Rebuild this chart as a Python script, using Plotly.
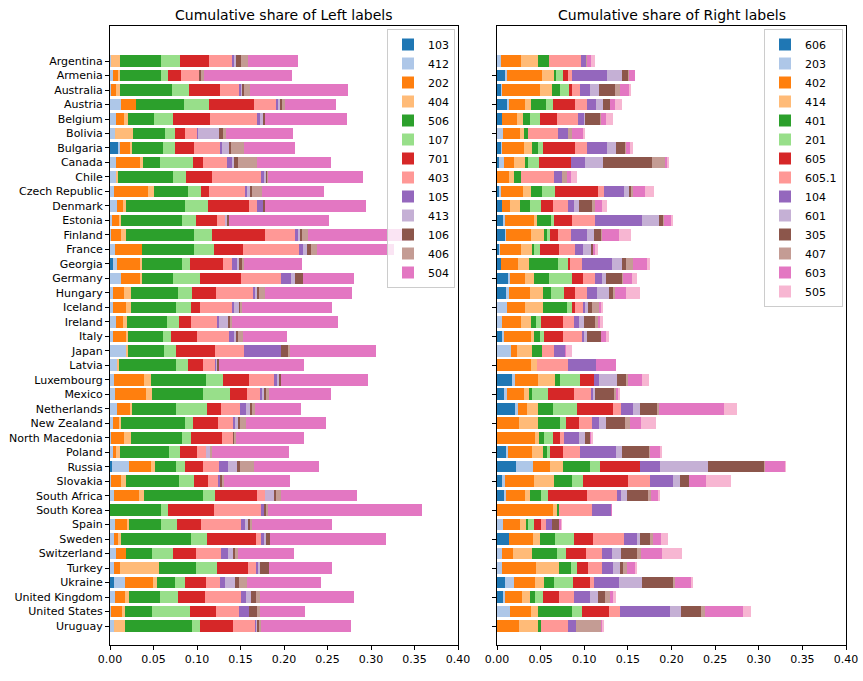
import plotly.graph_objects as go

countries = ["Argentina", "Armenia", "Australia", "Austria", "Belgium", "Bolivia", "Bulgaria", "Canada",
             "Chile", "Czech Republic", "Denmark", "Estonia", "Finland", "France", "Georgia", "Germany",
             "Hungary", "Iceland", "Ireland", "Italy", "Japan", "Latvia", "Luxembourg", "Mexico",
             "Netherlands", "New Zealand", "North Macedonia", "Poland", "Russia", "Slovakia",
             "South Africa", "South Korea", "Spain", "Sweden", "Switzerland", "Turkey", "Ukraine",
             "United Kingdom", "United States", "Uruguay"]

left_labels = ["103", "412", "202", "404", "506", "107", "701", "403", "105", "413", "106", "406", "504"]
right_labels = ["606", "203", "402", "414", "401", "201", "605", "605.1", "104", "601", "305", "407", "603", "505"]

# ---- Left panel series ----
s103 = [0, 0, 0, 0, 0, 0, 0.0092, 0, 0, 0, 0, 0, 0, 0, 0.0034, 0, 0, 0, 0, 0,
        0, 0, 0, 0, 0, 0, 0, 0, 0.0023, 0, 0, 0, 0, 0, 0, 0, 0.0046, 0, 0, 0]
s412 = [0.001, 0.003, 0.001, 0.0126, 0.0069, 0.0057, 0.0023, 0.0069, 0.0069, 0.0046,
        0.008, 0.0023, 0.0011, 0.0057, 0.0046, 0.0126, 0.0034, 0.0034, 0.0069, 0.0034,
        0.0195, 0.008, 0.0046, 0.0057, 0.008, 0.0034, 0.001, 0.0034, 0.0195, 0.001,
        0.0046, 0, 0.0057, 0.0046, 0.0069, 0.0046, 0.0126, 0.0057, 0.001, 0.0046]
s202 = [0, 0.0069, 0.0061, 0.0172, 0.0092, 0, 0.0115, 0.0276, 0, 0.0391,
        0.0069, 0.008, 0.0115, 0.031, 0.0264, 0.0218, 0.0126, 0.0149, 0.008, 0.0149,
        0, 0, 0.0345, 0.0356, 0.0149, 0.0069, 0.0153, 0.0034, 0.0253, 0.0119,
        0.0287, 0, 0.0138, 0.0046, 0.0115, 0.0069, 0.0322, 0.0115, 0.013, 0]
s404 = [0.0107, 0.0015, 0.0046, 0, 0.0046, 0.0207, 0.0023, 0.0034, 0.0023, 0.0069,
        0.0034, 0.0023, 0.0057, 0, 0.0023, 0.0023, 0.008, 0.0057, 0.0046, 0.0023,
        0.0011, 0.0023, 0.008, 0.0069, 0.0023, 0.0023, 0.008, 0.0046, 0.0046, 0.0057,
        0.0057, 0, 0.0023, 0.0034, 0, 0.0448, 0.0046, 0.0046, 0.0034, 0.0126]
s506 = [0.0471, 0.0471, 0.0598, 0.0552, 0.0299, 0.0368, 0.0356, 0.0195, 0.0632, 0.0391,
        0.0678, 0.0701, 0.0781, 0.0598, 0.046, 0.0356, 0.054, 0.0517, 0.046, 0.0402,
        0.0414, 0.0655, 0.0632, 0.0586, 0.0506, 0.0735, 0.0586, 0.0563, 0.0241, 0.0609,
        0.0678, 0.0586, 0.0368, 0.0805, 0.0299, 0.0425, 0.0207, 0.0356, 0.031, 0.077]
s107 = [0.0218, 0.008, 0.0195, 0.0287, 0.0218, 0.0115, 0.0138, 0.0379, 0.0149, 0.0149,
        0.0264, 0.0161, 0.0207, 0.023, 0.0092, 0.031, 0.0161, 0.0172, 0.0138, 0.0092,
        0.0138, 0.0138, 0.0195, 0.031, 0.0356, 0.0092, 0.0103, 0.0126, 0.0103, 0.0172,
        0.0138, 0.008, 0.0184, 0.0184, 0.0241, 0.0241, 0.0115, 0.0207, 0.0437, 0.0092]
s701 = [0.0333, 0.0149, 0.0356, 0.0517, 0.0425, 0.0115, 0.0218, 0.0115, 0.0299, 0.0092,
        0.0471, 0.0241, 0.0609, 0.0333, 0.0379, 0.0471, 0.0276, 0.0103, 0.0138, 0.0299,
        0.0448, 0.0172, 0.0299, 0.0195, 0.0161, 0.0287, 0.0356, 0.0195, 0.0207, 0.0161,
        0.0483, 0.0529, 0.0276, 0.0563, 0.0264, 0.0356, 0.0241, 0.031, 0.0299, 0.0379]
s403 = [0.0264, 0.0207, 0.0218, 0.0253, 0.054, 0.0138, 0.031, 0.0276, 0.0563, 0.0414,
        0.0092, 0.0092, 0.0345, 0.0644, 0.0103, 0.046, 0.0437, 0.0368, 0.0299, 0.0368,
        0.0333, 0.0138, 0.0287, 0.0149, 0.0218, 0.0172, 0.0126, 0.0103, 0.0184, 0.0115,
        0.0092, 0.054, 0.046, 0.0057, 0.0287, 0.0103, 0.0161, 0.0414, 0.0264, 0.0264]
s105 = [0.0019, 0, 0.0023, 0.0023, 0.0034, 0.0011, 0.0011, 0.0057, 0.0034, 0.0023,
        0.0069, 0, 0.0046, 0.0046, 0.0069, 0.0115, 0.0011, 0.0023, 0.0023, 0.0057,
        0.0425, 0.0023, 0.0034, 0.0023, 0.0069, 0.0023, 0, 0, 0.0103, 0.0023,
        0, 0.0034, 0.0046, 0.0034, 0.008, 0.0011, 0.0057, 0.0057, 0.0115, 0.0011]
s413 = [0.0027, 0, 0.0019, 0.0023, 0.0034, 0.0241, 0.0092, 0.0023, 0.0031, 0.0034,
        0, 0.0034, 0.0011, 0.0046, 0.0011, 0.0046, 0.0034, 0.0057, 0.0103, 0.0034,
        0, 0.0011, 0.0023, 0.0034, 0.0046, 0.0046, 0, 0.0046, 0.0115, 0,
        0.0103, 0, 0.0034, 0.0023, 0.0057, 0.0023, 0.0115, 0.0057, 0, 0.0011]
s106 = [0.0057, 0.003, 0.0011, 0.0023, 0.0023, 0.0046, 0.0011, 0.0046, 0.0015, 0.0023,
        0.0023, 0.0011, 0.0023, 0.0046, 0.0034, 0.0092, 0.0011, 0.0023, 0.0023, 0.0011,
        0.008, 0.0011, 0.0023, 0.0011, 0.0023, 0.0011, 0.0011, 0, 0.0023, 0.0023,
        0.0023, 0.0034, 0.0023, 0.0046, 0.0023, 0.0103, 0.0046, 0.0057, 0.0092, 0.0011]
s406 = [0.008, 0.0027, 0.0073, 0.0034, 0, 0.0034, 0.0149, 0.0218, 0.0004, 0.0115,
        0, 0, 0.0069, 0.0069, 0.0023, 0, 0.0069, 0.0011, 0.0023, 0.0057,
        0.0023, 0, 0, 0.0034, 0.0034, 0.0069, 0.0023, 0.0023, 0.0161, 0.0023,
        0.0057, 0.0011, 0.0023, 0, 0.0034, 0, 0.0092, 0.0046, 0.0034, 0.0023]
s504 = [0.0575, 0.101, 0.1126, 0.0586, 0.0942, 0.077, 0.0586, 0.085, 0.1092, 0.0712,
        0.116, 0.1149, 0.1191, 0.0885, 0.0666, 0.0586, 0.1, 0.1034, 0.1218, 0.0506,
        0.0988, 0.0977, 0.1, 0.0712, 0.0529, 0.0919, 0.0781, 0.0885, 0.0747, 0.0758,
        0.0873, 0.177, 0.0919, 0.1333, 0.0644, 0.0724, 0.085, 0.108, 0.0517, 0.1034]

# ---- Right panel series ----
r606 = [0, 0.0103, 0.0046, 0.0126, 0.0057, 0, 0.0046, 0.0023, 0, 0.0034,
        0.0057, 0.008, 0.0092, 0.0023, 0.0046, 0.0126, 0.0103, 0, 0, 0.0057,
        0, 0, 0.0172, 0.008, 0.0206, 0, 0, 0.0103, 0.0218, 0.0057,
        0.008, 0, 0, 0.0138, 0, 0, 0.0092, 0.008, 0, 0]
r203 = [0.0046, 0.0011, 0.0011, 0.0011, 0, 0.0069, 0.0011, 0.0057, 0, 0.0011,
        0, 0.0011, 0.0011, 0.0011, 0, 0.0023, 0.0034, 0.0115, 0.0057, 0.0023,
        0.0161, 0, 0.0034, 0.0034, 0.0034, 0, 0, 0.0023, 0.0195, 0.0034,
        0.0023, 0, 0.0069, 0, 0.0057, 0.0057, 0.0103, 0.0011, 0.0149, 0]
r402 = [0.023, 0.0402, 0.0437, 0.0184, 0.0172, 0.0195, 0.0253, 0.0115, 0.0138, 0.0253,
        0.0092, 0.0333, 0.0287, 0.0241, 0.0195, 0.0172, 0.0241, 0.0207, 0.0218, 0.031,
        0.0069, 0.039, 0.0264, 0.0195, 0.0103, 0.0252, 0.0435, 0.0275, 0.0195, 0.0332,
        0.0218, 0.0642, 0.0195, 0.0275, 0.0126, 0.039, 0.0241, 0.0195, 0.0241, 0.0252]
r414 = [0.0195, 0.0138, 0.0138, 0.0069, 0.0069, 0.0046, 0.0092, 0.0126, 0.0057, 0.0092,
        0.0115, 0.0034, 0.0149, 0.0126, 0.0126, 0.0103, 0.0149, 0.0207, 0.0115, 0.0034,
        0.0172, 0.0069, 0.0195, 0.0057, 0.0126, 0.0218, 0.0046, 0.0126, 0.0149, 0.0229,
        0.0057, 0.0046, 0.0069, 0.008, 0.0218, 0.0264, 0.0103, 0.0092, 0.008, 0.0218]
r401 = [0.0126, 0.0023, 0.0092, 0.0172, 0.008, 0.0046, 0.0069, 0.0034, 0.008, 0.0126,
        0.0115, 0.0161, 0.0034, 0.0023, 0.0333, 0.0172, 0.0092, 0.0276, 0.0057, 0.0069,
        0.0115, 0, 0.0057, 0.0034, 0.0172, 0.0252, 0.0057, 0.0046, 0.031, 0.0206,
        0.0126, 0.0023, 0.0023, 0.0172, 0.0287, 0.0138, 0.0115, 0.0057, 0.039, 0.0034]
r201 = [0, 0.008, 0.0103, 0.008, 0.0115, 0, 0.0057, 0.0126, 0, 0.0149,
        0.0126, 0.0034, 0.0034, 0.0069, 0.0115, 0.0264, 0.0149, 0.0057, 0.0057, 0.0046,
        0, 0, 0.0229, 0.0183, 0.0275, 0.0069, 0.0103, 0.0034, 0.0115, 0.0126,
        0.008, 0, 0.0069, 0.0218, 0.0103, 0.0069, 0.0218, 0.0092, 0.0115, 0]
r605 = [0, 0.0057, 0.0034, 0.0253, 0.0195, 0, 0.0368, 0.0368, 0, 0.0494,
        0.0138, 0.0207, 0.0092, 0.0218, 0.0023, 0.0126, 0.0126, 0.0034, 0.0253, 0.0218,
        0, 0, 0.016, 0.0298, 0.0413, 0.0149, 0.008, 0.0149, 0.0458, 0.0516,
        0.0447, 0, 0.008, 0.0218, 0.0229, 0.0126, 0.0195, 0.0183, 0.031, 0]
r605_1 = [0.0368, 0.0046, 0.0092, 0.0138, 0.0241, 0.0345, 0.0138, 0, 0.0379, 0.0069,
          0.0172, 0.0264, 0.0149, 0.0184, 0.0138, 0.0138, 0.0138, 0.0092, 0.0126, 0.0218,
          0.0138, 0.0356, 0, 0.0206, 0.0092, 0.0149, 0.0046, 0.0195, 0, 0.0252,
          0.0344, 0.0378, 0.0057, 0.0355, 0.0183, 0.016, 0.0046, 0.0172, 0.0126, 0.031]
r104 = [0.0057, 0.0402, 0.0115, 0.0103, 0.0069, 0.0115, 0.023, 0.0161, 0.0092, 0.023,
        0.0069, 0.054, 0.0184, 0.0092, 0.0345, 0.008, 0.0115, 0.0023, 0.0057, 0.0023,
        0.0126, 0.0321, 0.0057, 0.0011, 0.0138, 0.008, 0.0172, 0.0413, 0.0229, 0.0264,
        0.0046, 0.0218, 0.0069, 0.0149, 0.0115, 0.0126, 0.0287, 0.0183, 0.0573, 0.0092]
r601 = [0, 0.0172, 0.0103, 0.008, 0.0011, 0, 0.0103, 0.0207, 0, 0.0057,
        0.0057, 0.0195, 0.008, 0.0092, 0.0115, 0.0046, 0.0138, 0.0034, 0.0057, 0.0034,
        0, 0, 0.0206, 0.0023, 0.008, 0.008, 0.0069, 0.0069, 0.055, 0.008,
        0.0069, 0, 0, 0.0034, 0.0103, 0.008, 0.0264, 0.0092, 0.0126, 0]
r305 = [0, 0.0069, 0.0184, 0.008, 0.0172, 0, 0.0103, 0.0563, 0, 0.0023,
        0.0149, 0.0046, 0.008, 0.0023, 0.0046, 0.0184, 0.0046, 0.0046, 0.0126, 0.0161,
        0, 0, 0.0115, 0.0218, 0.0206, 0.0218, 0.0069, 0.031, 0.0642, 0.0103,
        0.0241, 0, 0.008, 0.0115, 0.0183, 0.0034, 0.0355, 0.008, 0.0229, 0]
r407 = [0.0011, 0.0011, 0.0057, 0, 0.0011, 0.0046, 0.0011, 0.0149, 0.0057, 0.0023,
        0.0034, 0.0011, 0.0011, 0, 0.008, 0.0011, 0.0023, 0.008, 0.0034, 0,
        0, 0, 0.0011, 0.0023, 0.0011, 0.0057, 0, 0.0011, 0.0011, 0,
        0.0034, 0, 0, 0.0034, 0.0046, 0.0046, 0.0023, 0.0057, 0.0046, 0.0287]
r603 = [0.0046, 0.0069, 0.0103, 0.0057, 0.0057, 0.0126, 0.0046, 0.0023, 0.0046, 0.0138,
        0.008, 0.008, 0.0195, 0.0023, 0.0161, 0.0103, 0.0126, 0.0023, 0.0023, 0.0057,
        0.0011, 0.0229, 0.016, 0.0034, 0.0745, 0.0126, 0.0011, 0.0115, 0.0229, 0.0195,
        0.008, 0.0011, 0.0023, 0.0092, 0.0241, 0.0103, 0.0183, 0.0034, 0.0435, 0.0011]
r505 = [0.0046, 0, 0.0023, 0.008, 0.008, 0.0011, 0.0034, 0.0011, 0.0069, 0.0103,
        0.0057, 0.0011, 0.0138, 0.0034, 0.0034, 0.0057, 0.0161, 0.0023, 0.0034, 0.0034,
        0.0069, 0, 0.008, 0.0011, 0.0149, 0.0172, 0.0011, 0.0011, 0.0011, 0.0287,
        0.0023, 0, 0.0011, 0.008, 0.0229, 0.0011, 0.0011, 0.0034, 0.0092, 0.0011]

left_series = [s103, s412, s202, s404, s506, s107, s701, s403, s105, s413, s106, s406, s504]
right_series = [r606, r203, r402, r414, r401, r201, r605, r605_1, r104, r601, r305, r407, r603, r505]

colors = ["#1f77b4", "#aec7e8", "#ff7f0e", "#ffbb78", "#2ca02c", "#98df8a", "#d62728",
          "#ff9896", "#9467bd", "#c5b0d5", "#8c564b", "#c49c94", "#e377c2", "#f7b6d2"]

FONT = "DejaVu Sans"
W, H = 863, 681
L0, L1 = 110 / W, 458 / W
R0, R1 = 497 / W, 846 / W
Y0, Y1 = 1 - 645 / H, 1 - 26 / H

fig = go.Figure()
for i, lab in enumerate(left_labels):
    fig.add_trace(go.Bar(y=countries, x=left_series[i], orientation="h", name=lab,
                         marker=dict(color=colors[i], line=dict(width=0)),
                         xaxis="x", yaxis="y", legend="legend"))
for i, lab in enumerate(right_labels):
    fig.add_trace(go.Bar(y=countries, x=right_series[i], orientation="h", name=lab,
                         marker=dict(color=colors[i], line=dict(width=0)),
                         xaxis="x2", yaxis="y2", legend="legend2"))

axis_common = dict(showline=True, linecolor="black", linewidth=1, mirror=True,
                   ticks="outside", ticklen=4, tickwidth=1, tickcolor="black",
                   showgrid=False, zeroline=False, automargin=False,
                   tickfont=dict(family=FONT, size=11, color="black"))
n = len(countries)
yrange = [n - 1 + 1.31, -2.42]

fig.update_layout(
    width=W, height=H,
    margin=dict(l=0, r=0, t=0, b=0),
    paper_bgcolor="white", plot_bgcolor="white",
    barmode="stack", bargap=0.2,
    font=dict(family=FONT, size=11, color="black"),
    xaxis=dict(domain=[L0, L1], anchor="y", range=[0, 0.4], dtick=0.05, tick0=0,
               tickformat=".2f", **axis_common),
    xaxis2=dict(domain=[R0, R1], anchor="y2", range=[0, 0.4], dtick=0.05, tick0=0,
                tickformat=".2f", **axis_common),
    yaxis=dict(domain=[Y0, Y1], anchor="x", type="category", categoryorder="array",
               categoryarray=countries, range=yrange, **axis_common),
    yaxis2=dict(domain=[Y0, Y1], anchor="x2", type="category", categoryorder="array",
                categoryarray=countries, range=yrange, showticklabels=False, **axis_common),
    legend=dict(x=L1 - 3 / W, xanchor="right", y=Y1 - 3 / H, yanchor="top",
                bgcolor="rgba(255,255,255,0.8)", bordercolor="#cccccc", borderwidth=1,
                font=dict(family=FONT, size=11, color="black"), traceorder="normal",
                tracegroupgap=0),
    legend2=dict(x=R1 - 3 / W, xanchor="right", y=Y1 - 3 / H, yanchor="top",
                 bgcolor="rgba(255,255,255,0.8)", bordercolor="#cccccc", borderwidth=1,
                 font=dict(family=FONT, size=11, color="black"), traceorder="normal",
                 tracegroupgap=0),
    annotations=[
        dict(text="Cumulative share of Left labels", x=(L0 + L1) / 2, y=1 - 15 / H,
             xref="paper", yref="paper", xanchor="center", yanchor="middle", showarrow=False,
             font=dict(family=FONT, size=14, color="black")),
        dict(text="Cumulative share of Right labels", x=(R0 + R1) / 2, y=1 - 15 / H,
             xref="paper", yref="paper", xanchor="center", yanchor="middle", showarrow=False,
             font=dict(family=FONT, size=14, color="black")),
    ],
)

fig.write_html("out.html", config={"displayModeBar": False},
               post_script="document.body.style.margin='0';document.body.style.padding='0';")
